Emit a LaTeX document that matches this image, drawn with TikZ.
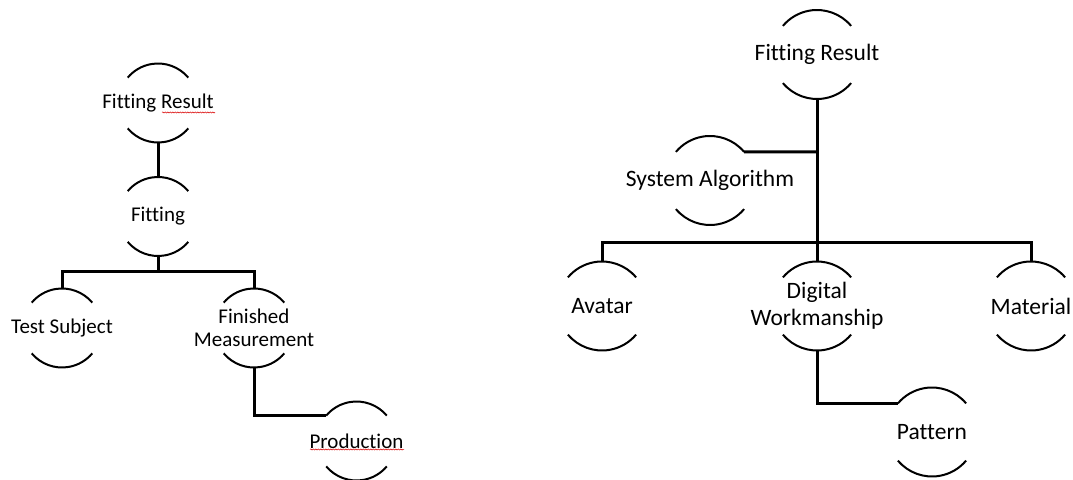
\documentclass[tikz,border=0pt]{standalone}
\usepackage{fontspec}
\setmainfont{Carlito}[Ligatures=NoCommon]
\usetikzlibrary{decorations.pathmorphing}
\newcommand\bracketpair[2]{%
  \draw[brk] ([shift={(40:#2)}]#1.center) arc[start angle=40,end angle=140,radius=#2];
  \draw[brk] ([shift={(220:#2)}]#1.center) arc[start angle=220,end angle=320,radius=#2];}
\begin{document}
\begin{tikzpicture}[x=1pt,y=1pt,
  lbl/.style={inner sep=0pt, align=center, font=\fontsize{21}{22.7}\selectfont},
  rlbl/.style={inner sep=0pt, align=center, font=\fontsize{23.5}{26.7}\selectfont},
  brk/.style={line width=2pt},
  conn/.style={line width=3pt},
  spell/.style={red!85!black, line width=0.5pt, decorate,
    decoration={snake, amplitude=0.6pt, segment length=2.5pt}}]
\useasboundingbox (0,0) rectangle (1073,479);
% ---------- left tree ----------
\node[lbl] (lfr) at (158,376) {Fitting Result};
\node[lbl] (lfit) at (158,262.5) {Fitting};
\node[lbl] (lts) at (62,151) {Test Subject};
\node[lbl] (lfm) at (254,151) {Finished\\Measurement};
\node[lbl] (lprod) at (356.5,38) {Production};
\foreach \n in {lfr,lfit,lts,lfm,lprod} {\bracketpair{\n}{39.5}}
\coordinate (lj) at (158,207);
\draw[conn] ([yshift=-39.5pt]lfr.center) -- ([yshift=39.5pt]lfit.center);
\draw[conn] ([yshift=-39.5pt]lfit.center) -- (lj);
\draw[conn] ([yshift=39.5pt]lts.center) |- (lj) -| ([yshift=39.5pt]lfm.center);
\draw[conn] ([yshift=-39.5pt]lfm.center) |- ([shift={(140:39.5)}]lprod.center);
\draw[spell] ([shift={(4,-9.5)}]lfr.center) -- ([shift={(57,-9.5)}]lfr.center);
\draw[spell] ([shift={(-46.5,-8.5)}]lprod.center) -- ([shift={(47.5,-8.5)}]lprod.center);
% ---------- right tree ----------
\node[rlbl] (rfr) at (817,424.5) {Fitting Result};
\node[rlbl] (rsa) at (710,298.5) {System Algorithm};
\node[rlbl] (rav) at (602,173) {Avatar};
\node[rlbl] (rdw) at (817,173) {Digital\\Workmanship};
\node[rlbl] (rmat) at (1031,173) {Material};
\node[rlbl] (rpat) at (932,47) {Pattern};
\foreach \n in {rfr,rsa,rav,rdw,rmat,rpat} {\bracketpair{\n}{44.5}}
\coordinate (rj) at (817,236);
\coordinate (rk) at (817,327.1);
\draw[conn] ([yshift=-44.5pt]rfr.center) -- ([yshift=44.5pt]rdw.center);
\draw[conn] ([shift={(40:44.5)}]rsa.center) -- (rk);
\draw[conn] ([yshift=44.5pt]rav.center) |- (rj) -| ([yshift=44.5pt]rmat.center);
\draw[conn] ([yshift=-44.5pt]rdw.center) |- ([shift={(140:44.5)}]rpat.center);
\end{tikzpicture}
\end{document}
